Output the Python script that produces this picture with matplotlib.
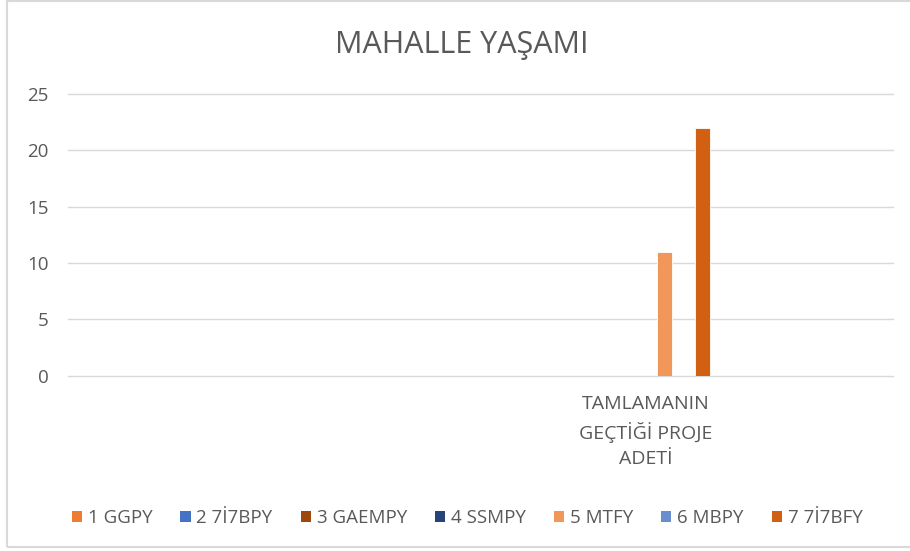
import matplotlib
matplotlib.use("Agg")
import matplotlib.pyplot as plt
from matplotlib.patches import Rectangle, Patch
import numpy as np

categories = ["", "", "", "TAMLAMANIN\nGEÇTİĞİ PROJE\nADETİ", ""]
series_names = ["1 GGPY", "2 7İ7BPY", "3 GAEMPY", "4 SSMPY", "5 MTFY", "6 MBPY", "7 7İ7BFY"]
series_values = [
    [0, 0, 0, 0, 0],
    [0, 0, 0, 0, 0],
    [0, 0, 0, 0, 0],
    [0, 0, 0, 0, 0],
    [0, 0, 0, 11, 0],
    [0, 0, 0, 0, 0],
    [0, 0, 0, 22, 0],
]
colors = ["#ED7D31", "#4472C4", "#9E480E", "#264478", "#F1975A", "#698ED0", "#D26012"]
yticks = [0, 5, 10, 15, 20, 25]

plt.rcParams['font.family'] = ['Open Sans', 'DejaVu Sans']
txt = "#595959"

fig = plt.figure(figsize=(9.10, 5.51), dpi=100)
ax = fig.add_axes([68/910, 1-375.7/551, (893-68)/910, (375.7-94)/551])

x = np.arange(len(categories))
spacing = 19/165
width = 15/165
n = len(series_names)
for j in range(n):
    offs = (j - (n-1)/2) * spacing
    vals = series_values[j]
    ax.bar(x + offs, vals, width=width, color=colors[j], edgecolor="white",
           linewidth=0.6, zorder=3, label=series_names[j])

ax.set_xlim(-0.5, len(categories) - 0.5)
ax.set_ylim(0, 25)
ax.set_yticks(yticks)
ax.set_yticklabels([str(t) for t in yticks], fontsize=13.5, color=txt)
ax.set_xticks(x)
ax.set_xticklabels(categories, fontsize=14, color=txt, linespacing=1.5)
ax.tick_params(axis='both', length=0)
ax.tick_params(axis='y', pad=14)
ax.tick_params(axis='x', pad=14)
for s in ax.spines.values():
    s.set_visible(False)
ax.grid(axis='y', color="#D9D9D9", linewidth=1, zorder=0)
for gl in ax.get_ygridlines():
    gl.set_clip_on(False)
ax.set_axisbelow(True)

fig.text(462/910, 1-45/551, "MAHALLE YAŞAMI", ha='center', va='center',
         fontsize=22, color=txt)

handles = [Patch(facecolor=c, edgecolor='none') for c in colors]
fig.legend(handles, series_names, loc='center', bbox_to_anchor=(467/910, 1-518/551),
           ncol=7, frameon=False, fontsize=13.5, labelcolor=txt,
           handlelength=0.55, handleheight=0.55, handletextpad=0.3, columnspacing=1.5)

border = Rectangle((7/910, 1-547/551), 1.2, (546)/551, transform=fig.transFigure,
                   fill=False, edgecolor="#D9D9D9", linewidth=1.5)
fig.patches.append(border)

fig.savefig("out.png", dpi=100)
